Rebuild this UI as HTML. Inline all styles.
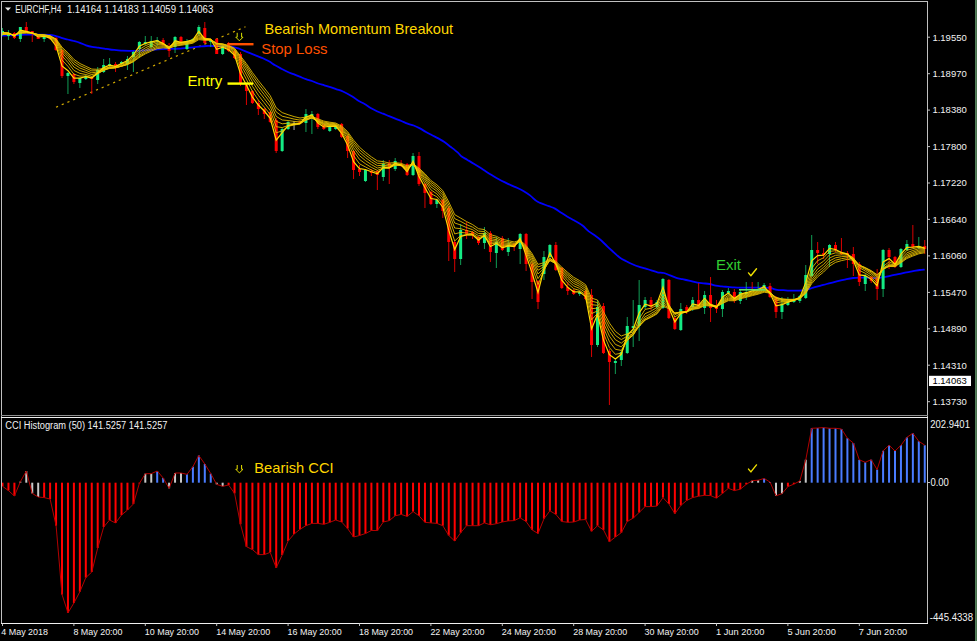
<!DOCTYPE html>
<html><head><meta charset="utf-8"><style>
html,body{margin:0;padding:0;background:#000;width:977px;height:641px;overflow:hidden}
</style></head><body>
<svg width="977" height="641" viewBox="0 0 977 641" style="display:block">
<rect x="0" y="0" width="977" height="641" fill="#000"/>
<defs><clipPath id="cm"><rect x="2" y="2" width="925" height="413"/></clipPath><clipPath id="cc"><rect x="2" y="418" width="925" height="205"/></clipPath></defs>
<g clip-path="url(#cm)">
<line x1="56" y1="107.2" x2="245.5" y2="26.8" stroke="#d0a800" stroke-width="1.2" stroke-dasharray="2.2,4"/>
<path d="M0.00,35.60 C2.87,35.52 13.10,35.27 17.20,35.10 C21.30,34.93 21.32,34.68 24.60,34.60 C27.88,34.52 32.82,34.57 36.90,34.60 C40.98,34.63 46.03,34.60 49.10,34.80 C52.17,35.00 53.25,35.28 55.30,35.80 C57.35,36.32 59.35,37.28 61.40,37.90 C63.45,38.52 65.55,38.98 67.60,39.50 C69.65,40.02 71.65,40.45 73.70,41.00 C75.75,41.55 77.85,42.08 79.90,42.80 C81.95,43.52 83.97,44.62 86.00,45.30 C88.03,45.98 90.05,46.50 92.10,46.90 C94.15,47.30 96.25,47.42 98.30,47.70 C100.35,47.98 102.45,48.30 104.40,48.60 C106.35,48.90 108.00,49.25 110.00,49.50 C112.00,49.75 114.27,49.90 116.40,50.10 C118.53,50.30 120.67,50.57 122.80,50.70 C124.93,50.83 127.07,50.87 129.20,50.90 C131.33,50.93 133.47,50.97 135.60,50.90 C137.73,50.83 139.87,50.63 142.00,50.50 C144.13,50.37 146.27,50.25 148.40,50.10 C150.53,49.95 152.67,49.75 154.80,49.60 C156.93,49.45 159.07,49.32 161.20,49.20 C163.33,49.08 165.47,48.97 167.60,48.90 C169.73,48.83 171.87,48.85 174.00,48.80 C176.13,48.75 178.27,48.75 180.40,48.60 C182.53,48.45 184.67,48.12 186.80,47.90 C188.93,47.68 191.07,47.52 193.20,47.30 C195.33,47.08 197.47,46.82 199.60,46.60 C201.73,46.38 203.87,46.10 206.00,46.00 C208.13,45.90 210.27,45.95 212.40,46.00 C214.53,46.05 216.68,46.22 218.80,46.30 C220.92,46.38 223.08,46.45 225.10,46.50 C227.12,46.55 228.70,46.28 230.90,46.60 C233.10,46.92 236.05,47.68 238.30,48.40 C240.55,49.12 242.35,50.07 244.40,50.90 C246.45,51.73 248.55,52.58 250.60,53.40 C252.65,54.22 254.65,54.98 256.70,55.80 C258.75,56.62 260.85,57.38 262.90,58.30 C264.95,59.22 266.97,60.13 269.00,61.30 C271.03,62.47 273.05,64.07 275.10,65.30 C277.15,66.53 279.25,67.62 281.30,68.70 C283.35,69.78 285.35,70.88 287.40,71.80 C289.45,72.72 291.55,73.38 293.60,74.20 C295.65,75.02 297.65,75.87 299.70,76.70 C301.75,77.53 303.85,78.48 305.90,79.20 C307.95,79.92 309.97,80.28 312.00,81.00 C314.03,81.72 316.05,82.78 318.10,83.50 C320.15,84.22 322.25,84.70 324.30,85.30 C326.35,85.90 328.35,86.43 330.40,87.10 C332.45,87.77 334.50,88.57 336.60,89.30 C338.70,90.03 340.38,90.30 343.00,91.50 C345.62,92.70 349.73,94.95 352.30,96.50 C354.87,98.05 356.35,99.55 358.40,100.80 C360.45,102.05 362.55,102.80 364.60,104.00 C366.65,105.20 368.65,106.80 370.70,108.00 C372.75,109.20 374.85,110.25 376.90,111.20 C378.95,112.15 380.97,112.88 383.00,113.70 C385.03,114.52 387.05,115.28 389.10,116.10 C391.15,116.92 393.25,117.78 395.30,118.60 C397.35,119.42 399.35,120.15 401.40,121.00 C403.45,121.85 405.55,122.95 407.60,123.70 C409.65,124.45 411.65,124.72 413.70,125.50 C415.75,126.28 417.85,127.32 419.90,128.40 C421.95,129.48 423.97,130.87 426.00,132.00 C428.03,133.13 430.05,134.13 432.10,135.20 C434.15,136.27 436.25,137.25 438.30,138.40 C440.35,139.55 442.35,140.70 444.40,142.10 C446.45,143.50 448.35,145.05 450.60,146.80 C452.85,148.55 456.12,151.03 457.90,152.60 C459.68,154.17 459.70,154.98 461.30,156.20 C462.90,157.42 465.42,158.65 467.50,159.90 C469.58,161.15 471.72,162.42 473.80,163.70 C475.88,164.98 477.92,166.27 480.00,167.60 C482.08,168.93 484.22,170.38 486.30,171.70 C488.38,173.02 490.42,174.25 492.50,175.50 C494.58,176.75 496.72,178.05 498.80,179.20 C500.88,180.35 502.92,181.37 505.00,182.40 C507.08,183.43 509.22,184.47 511.30,185.40 C513.38,186.33 515.42,187.03 517.50,188.00 C519.58,188.97 521.72,189.97 523.80,191.20 C525.88,192.43 527.92,193.78 530.00,195.40 C532.08,197.02 534.63,199.65 536.30,200.90 C537.97,202.15 537.92,202.02 540.00,202.90 C542.08,203.78 546.30,205.25 548.80,206.20 C551.30,207.15 552.92,207.50 555.00,208.60 C557.08,209.70 559.22,211.45 561.30,212.80 C563.38,214.15 565.32,215.42 567.50,216.70 C569.68,217.98 571.90,219.03 574.40,220.50 C576.90,221.97 580.10,223.68 582.50,225.50 C584.90,227.32 586.72,229.72 588.80,231.40 C590.88,233.08 592.92,234.08 595.00,235.60 C597.08,237.12 599.22,238.67 601.30,240.50 C603.38,242.33 605.42,244.63 607.50,246.60 C609.58,248.57 611.72,250.43 613.80,252.30 C615.88,254.17 617.92,256.32 620.00,257.80 C622.08,259.28 624.22,260.13 626.30,261.20 C628.38,262.27 630.42,263.28 632.50,264.20 C634.58,265.12 636.72,266.02 638.80,266.70 C640.88,267.38 642.92,267.68 645.00,268.30 C647.08,268.92 649.22,269.73 651.30,270.40 C653.38,271.07 655.42,271.87 657.50,272.30 C659.58,272.73 661.72,272.48 663.80,273.00 C665.88,273.52 667.92,274.60 670.00,275.40 C672.08,276.20 674.22,277.17 676.30,277.80 C678.38,278.43 680.38,278.73 682.50,279.20 C684.62,279.67 686.53,280.03 689.00,280.60 C691.47,281.17 694.90,282.15 697.30,282.60 C699.70,283.05 701.35,283.07 703.40,283.30 C705.45,283.53 707.55,283.62 709.60,284.00 C711.65,284.38 713.65,285.20 715.70,285.60 C717.75,286.00 719.85,286.18 721.90,286.40 C723.95,286.62 725.97,286.73 728.00,286.90 C730.03,287.07 732.05,287.28 734.10,287.40 C736.15,287.52 737.22,287.57 740.30,287.60 C743.38,287.63 748.50,287.58 752.60,287.60 C756.70,287.62 761.83,287.60 764.90,287.70 C767.97,287.80 768.97,287.83 771.00,288.20 C773.03,288.57 775.05,289.57 777.10,289.90 C779.15,290.23 781.25,290.08 783.30,290.20 C785.35,290.32 787.35,290.52 789.40,290.60 C791.45,290.68 793.55,290.72 795.60,290.70 C797.65,290.68 799.85,290.68 801.70,290.50 C803.55,290.32 804.77,290.08 806.70,289.60 C808.63,289.12 811.08,288.22 813.30,287.60 C815.52,286.98 817.78,286.50 820.00,285.90 C822.22,285.30 824.38,284.60 826.60,284.00 C828.82,283.40 831.08,282.85 833.30,282.30 C835.52,281.75 837.68,281.23 839.90,280.70 C842.12,280.17 844.38,279.55 846.60,279.10 C848.82,278.65 850.98,278.25 853.20,278.00 C855.42,277.75 857.68,277.67 859.90,277.60 C862.12,277.53 864.28,277.52 866.50,277.60 C868.72,277.68 870.98,278.07 873.20,278.10 C875.42,278.13 877.58,278.05 879.80,277.80 C882.02,277.55 884.28,277.03 886.50,276.60 C888.72,276.17 890.88,275.65 893.10,275.20 C895.32,274.75 897.57,274.38 899.80,273.90 C902.03,273.42 904.28,272.75 906.50,272.30 C908.72,271.85 910.88,271.58 913.10,271.20 C915.32,270.82 917.87,270.27 919.80,270.00 C921.73,269.73 923.88,269.67 924.70,269.60" fill="none" stroke="#0000ff" stroke-width="1.8" stroke-linejoin="round"/>
<line x1="2.50" y1="28" x2="2.50" y2="36" stroke="#12b060" stroke-width="0.9"/>
<rect x="1.00" y="31" width="3" height="4" fill="#14eb84"/>
<line x1="8.45" y1="30" x2="8.45" y2="40" stroke="#12b060" stroke-width="0.9"/>
<rect x="6.95" y="33" width="3" height="3" fill="#14eb84"/>
<line x1="14.40" y1="32" x2="14.40" y2="39" stroke="#f00000" stroke-width="0.9"/>
<rect x="12.90" y="33" width="3" height="5" fill="#ff0000"/>
<line x1="20.35" y1="27" x2="20.35" y2="42" stroke="#12b060" stroke-width="0.9"/>
<rect x="18.85" y="27" width="3" height="12" fill="#14eb84"/>
<line x1="26.30" y1="22" x2="26.30" y2="32" stroke="#f00000" stroke-width="0.9"/>
<rect x="24.80" y="27" width="3" height="5" fill="#ff0000"/>
<line x1="32.25" y1="31" x2="32.25" y2="42" stroke="#f00000" stroke-width="0.9"/>
<rect x="30.75" y="31" width="3" height="3" fill="#ff0000"/>
<line x1="38.20" y1="35" x2="38.20" y2="39" stroke="#f00000" stroke-width="0.9"/>
<rect x="36.70" y="36" width="3" height="3" fill="#ff0000"/>
<line x1="44.15" y1="36" x2="44.15" y2="42" stroke="#12b060" stroke-width="0.9"/>
<rect x="42.65" y="36" width="3" height="3" fill="#14eb84"/>
<line x1="50.10" y1="37" x2="50.10" y2="40" stroke="#f00000" stroke-width="0.9"/>
<rect x="48.60" y="37" width="3" height="2" fill="#ff0000"/>
<line x1="56.05" y1="37" x2="56.05" y2="51" stroke="#f00000" stroke-width="0.9"/>
<rect x="54.55" y="38" width="3" height="12" fill="#ff0000"/>
<line x1="62.00" y1="50" x2="62.00" y2="78" stroke="#f00000" stroke-width="0.9"/>
<rect x="60.50" y="50" width="3" height="26" fill="#ff0000"/>
<line x1="67.95" y1="72" x2="67.95" y2="94" stroke="#12b060" stroke-width="0.9"/>
<rect x="66.45" y="73" width="3" height="3" fill="#14eb84"/>
<line x1="73.90" y1="73" x2="73.90" y2="84" stroke="#f00000" stroke-width="0.9"/>
<rect x="72.40" y="74" width="3" height="8" fill="#ff0000"/>
<line x1="79.85" y1="78" x2="79.85" y2="88" stroke="#12b060" stroke-width="0.9"/>
<rect x="78.35" y="78" width="3" height="5" fill="#14eb84"/>
<line x1="85.80" y1="75" x2="85.80" y2="80" stroke="#12b060" stroke-width="0.9"/>
<rect x="84.30" y="76" width="3" height="3" fill="#14eb84"/>
<line x1="91.75" y1="76" x2="91.75" y2="94" stroke="#f00000" stroke-width="0.9"/>
<rect x="90.25" y="77" width="3" height="2" fill="#ff0000"/>
<line x1="97.70" y1="67" x2="97.70" y2="84" stroke="#12b060" stroke-width="0.9"/>
<rect x="96.20" y="70" width="3" height="10" fill="#14eb84"/>
<line x1="103.65" y1="59" x2="103.65" y2="73" stroke="#12b060" stroke-width="0.9"/>
<rect x="102.15" y="65" width="3" height="7" fill="#14eb84"/>
<line x1="109.60" y1="58" x2="109.60" y2="67" stroke="#12b060" stroke-width="0.9"/>
<rect x="108.10" y="64" width="3" height="2" fill="#14eb84"/>
<line x1="115.55" y1="62" x2="115.55" y2="72" stroke="#f00000" stroke-width="0.9"/>
<rect x="114.05" y="64" width="3" height="3" fill="#ff0000"/>
<line x1="121.50" y1="61" x2="121.50" y2="65" stroke="#12b060" stroke-width="0.9"/>
<rect x="120.00" y="62" width="3" height="2" fill="#14eb84"/>
<line x1="127.45" y1="56" x2="127.45" y2="70" stroke="#12b060" stroke-width="0.9"/>
<rect x="125.95" y="59" width="3" height="5" fill="#14eb84"/>
<line x1="133.40" y1="51" x2="133.40" y2="72" stroke="#12b060" stroke-width="0.9"/>
<rect x="131.90" y="52" width="3" height="5" fill="#14eb84"/>
<line x1="139.35" y1="41" x2="139.35" y2="58" stroke="#12b060" stroke-width="0.9"/>
<rect x="137.85" y="42" width="3" height="7" fill="#14eb84"/>
<line x1="145.30" y1="36" x2="145.30" y2="45" stroke="#12b060" stroke-width="0.9"/>
<rect x="143.80" y="42" width="3" height="2" fill="#14eb84"/>
<line x1="151.25" y1="36" x2="151.25" y2="48" stroke="#12b060" stroke-width="0.9"/>
<rect x="149.75" y="41" width="3" height="6" fill="#14eb84"/>
<line x1="157.20" y1="37" x2="157.20" y2="46" stroke="#12b060" stroke-width="0.9"/>
<rect x="155.70" y="40" width="3" height="1.2" fill="#14eb84"/>
<line x1="163.15" y1="38" x2="163.15" y2="46" stroke="#f00000" stroke-width="0.9"/>
<rect x="161.65" y="40" width="3" height="5" fill="#ff0000"/>
<line x1="169.10" y1="43" x2="169.10" y2="57" stroke="#f00000" stroke-width="0.9"/>
<rect x="167.60" y="49" width="3" height="2" fill="#ff0000"/>
<line x1="175.05" y1="36" x2="175.05" y2="53" stroke="#12b060" stroke-width="0.9"/>
<rect x="173.55" y="37" width="3" height="10" fill="#14eb84"/>
<line x1="181.00" y1="36" x2="181.00" y2="44" stroke="#f00000" stroke-width="0.9"/>
<rect x="179.50" y="37" width="3" height="6" fill="#ff0000"/>
<line x1="186.95" y1="39" x2="186.95" y2="50" stroke="#12b060" stroke-width="0.9"/>
<rect x="185.45" y="41" width="3" height="8" fill="#14eb84"/>
<line x1="192.90" y1="38" x2="192.90" y2="42" stroke="#12b060" stroke-width="0.9"/>
<rect x="191.40" y="39" width="3" height="2" fill="#14eb84"/>
<line x1="198.85" y1="25" x2="198.85" y2="36" stroke="#12b060" stroke-width="0.9"/>
<rect x="197.35" y="27" width="3" height="7" fill="#14eb84"/>
<line x1="204.80" y1="22" x2="204.80" y2="44" stroke="#f00000" stroke-width="0.9"/>
<rect x="203.30" y="28" width="3" height="15" fill="#ff0000"/>
<line x1="210.75" y1="39" x2="210.75" y2="47" stroke="#12b060" stroke-width="0.9"/>
<rect x="209.25" y="40" width="3" height="2" fill="#14eb84"/>
<line x1="216.70" y1="38" x2="216.70" y2="54" stroke="#f00000" stroke-width="0.9"/>
<rect x="215.20" y="39" width="3" height="15" fill="#ff0000"/>
<line x1="222.65" y1="45" x2="222.65" y2="55" stroke="#12b060" stroke-width="0.9"/>
<rect x="221.15" y="46" width="3" height="8" fill="#14eb84"/>
<line x1="228.60" y1="42" x2="228.60" y2="52" stroke="#f00000" stroke-width="0.9"/>
<rect x="227.10" y="43" width="3" height="8" fill="#ff0000"/>
<line x1="234.55" y1="50" x2="234.55" y2="59" stroke="#f00000" stroke-width="0.9"/>
<rect x="233.05" y="51" width="3" height="7" fill="#ff0000"/>
<line x1="240.50" y1="52" x2="240.50" y2="86" stroke="#f00000" stroke-width="0.9"/>
<rect x="239.00" y="54" width="3" height="29" fill="#ff0000"/>
<line x1="246.45" y1="84" x2="246.45" y2="105" stroke="#f00000" stroke-width="0.9"/>
<rect x="244.95" y="85" width="3" height="6" fill="#ff0000"/>
<line x1="252.40" y1="90" x2="252.40" y2="104" stroke="#f00000" stroke-width="0.9"/>
<rect x="250.90" y="91" width="3" height="12" fill="#ff0000"/>
<line x1="258.35" y1="100" x2="258.35" y2="115" stroke="#f00000" stroke-width="0.9"/>
<rect x="256.85" y="103" width="3" height="6" fill="#ff0000"/>
<line x1="264.30" y1="108" x2="264.30" y2="119" stroke="#f00000" stroke-width="0.9"/>
<rect x="262.80" y="109" width="3" height="5" fill="#ff0000"/>
<line x1="270.25" y1="111" x2="270.25" y2="123" stroke="#f00000" stroke-width="0.9"/>
<rect x="268.75" y="112" width="3" height="10" fill="#ff0000"/>
<line x1="276.20" y1="118" x2="276.20" y2="153" stroke="#f00000" stroke-width="0.9"/>
<rect x="274.70" y="120" width="3" height="31" fill="#ff0000"/>
<line x1="282.15" y1="128" x2="282.15" y2="152" stroke="#12b060" stroke-width="0.9"/>
<rect x="280.65" y="129" width="3" height="22" fill="#14eb84"/>
<line x1="288.10" y1="121" x2="288.10" y2="130" stroke="#12b060" stroke-width="0.9"/>
<rect x="286.60" y="122" width="3" height="7" fill="#14eb84"/>
<line x1="294.05" y1="121" x2="294.05" y2="130" stroke="#c0c0c0" stroke-width="0.9"/>
<rect x="292.55" y="123.5" width="3" height="1.2" fill="#e8e8e8"/>
<line x1="300.00" y1="121" x2="300.00" y2="124" stroke="#f00000" stroke-width="0.9"/>
<rect x="298.50" y="121.5" width="3" height="1.5" fill="#ff0000"/>
<line x1="305.95" y1="109" x2="305.95" y2="132" stroke="#12b060" stroke-width="0.9"/>
<rect x="304.45" y="114" width="3" height="9" fill="#14eb84"/>
<line x1="311.90" y1="111" x2="311.90" y2="134" stroke="#12b060" stroke-width="0.9"/>
<rect x="310.40" y="114" width="3" height="2" fill="#14eb84"/>
<line x1="317.85" y1="113" x2="317.85" y2="129" stroke="#f00000" stroke-width="0.9"/>
<rect x="316.35" y="114" width="3" height="13" fill="#ff0000"/>
<line x1="323.80" y1="124" x2="323.80" y2="130" stroke="#f00000" stroke-width="0.9"/>
<rect x="322.30" y="125" width="3" height="4" fill="#ff0000"/>
<line x1="329.75" y1="125" x2="329.75" y2="132" stroke="#12b060" stroke-width="0.9"/>
<rect x="328.25" y="126" width="3" height="5" fill="#14eb84"/>
<line x1="335.70" y1="125" x2="335.70" y2="130" stroke="#12b060" stroke-width="0.9"/>
<rect x="334.20" y="126" width="3" height="3" fill="#14eb84"/>
<line x1="341.65" y1="123" x2="341.65" y2="138" stroke="#f00000" stroke-width="0.9"/>
<rect x="340.15" y="124" width="3" height="13" fill="#ff0000"/>
<line x1="347.60" y1="135" x2="347.60" y2="158" stroke="#f00000" stroke-width="0.9"/>
<rect x="346.10" y="136" width="3" height="15" fill="#ff0000"/>
<line x1="353.55" y1="150" x2="353.55" y2="179" stroke="#f00000" stroke-width="0.9"/>
<rect x="352.05" y="151" width="3" height="19" fill="#ff0000"/>
<line x1="359.50" y1="165" x2="359.50" y2="176" stroke="#f00000" stroke-width="0.9"/>
<rect x="358.00" y="169" width="3" height="3" fill="#ff0000"/>
<line x1="365.45" y1="169" x2="365.45" y2="182" stroke="#12b060" stroke-width="0.9"/>
<rect x="363.95" y="170" width="3" height="11" fill="#14eb84"/>
<line x1="371.40" y1="169" x2="371.40" y2="176" stroke="#f00000" stroke-width="0.9"/>
<rect x="369.90" y="171" width="3" height="2" fill="#ff0000"/>
<line x1="377.35" y1="170" x2="377.35" y2="190" stroke="#f00000" stroke-width="0.9"/>
<rect x="375.85" y="171" width="3" height="4" fill="#ff0000"/>
<line x1="383.30" y1="160" x2="383.30" y2="181" stroke="#12b060" stroke-width="0.9"/>
<rect x="381.80" y="164" width="3" height="13" fill="#14eb84"/>
<line x1="389.25" y1="160" x2="389.25" y2="184" stroke="#f00000" stroke-width="0.9"/>
<rect x="387.75" y="163" width="3" height="5" fill="#ff0000"/>
<line x1="395.20" y1="158" x2="395.20" y2="171" stroke="#12b060" stroke-width="0.9"/>
<rect x="393.70" y="161" width="3" height="8" fill="#14eb84"/>
<line x1="401.15" y1="160" x2="401.15" y2="167" stroke="#f00000" stroke-width="0.9"/>
<rect x="399.65" y="164" width="3" height="2" fill="#ff0000"/>
<line x1="407.10" y1="163" x2="407.10" y2="176" stroke="#f00000" stroke-width="0.9"/>
<rect x="405.60" y="164" width="3" height="11" fill="#ff0000"/>
<line x1="413.05" y1="153" x2="413.05" y2="176" stroke="#12b060" stroke-width="0.9"/>
<rect x="411.55" y="156" width="3" height="19" fill="#14eb84"/>
<line x1="419.00" y1="152" x2="419.00" y2="186" stroke="#f00000" stroke-width="0.9"/>
<rect x="417.50" y="156" width="3" height="28" fill="#ff0000"/>
<line x1="424.95" y1="183" x2="424.95" y2="208" stroke="#f00000" stroke-width="0.9"/>
<rect x="423.45" y="184" width="3" height="9" fill="#ff0000"/>
<line x1="430.90" y1="191" x2="430.90" y2="205" stroke="#f00000" stroke-width="0.9"/>
<rect x="429.40" y="192" width="3" height="12" fill="#ff0000"/>
<line x1="436.85" y1="199" x2="436.85" y2="208" stroke="#12b060" stroke-width="0.9"/>
<rect x="435.35" y="200" width="3" height="4" fill="#14eb84"/>
<line x1="442.80" y1="199" x2="442.80" y2="218" stroke="#f00000" stroke-width="0.9"/>
<rect x="441.30" y="200" width="3" height="11" fill="#ff0000"/>
<line x1="448.75" y1="206" x2="448.75" y2="261" stroke="#f00000" stroke-width="0.9"/>
<rect x="447.25" y="208" width="3" height="34" fill="#ff0000"/>
<line x1="454.70" y1="241" x2="454.70" y2="272" stroke="#f00000" stroke-width="0.9"/>
<rect x="453.20" y="242" width="3" height="17" fill="#ff0000"/>
<line x1="460.65" y1="224" x2="460.65" y2="265" stroke="#12b060" stroke-width="0.9"/>
<rect x="459.15" y="230" width="3" height="29" fill="#14eb84"/>
<line x1="466.60" y1="222" x2="466.60" y2="239" stroke="#f00000" stroke-width="0.9"/>
<rect x="465.10" y="230" width="3" height="4" fill="#ff0000"/>
<line x1="472.55" y1="231" x2="472.55" y2="239" stroke="#f00000" stroke-width="0.9"/>
<rect x="471.05" y="232" width="3" height="3" fill="#ff0000"/>
<line x1="478.50" y1="236" x2="478.50" y2="245" stroke="#f00000" stroke-width="0.9"/>
<rect x="477.00" y="237" width="3" height="6" fill="#ff0000"/>
<line x1="484.45" y1="227" x2="484.45" y2="249" stroke="#12b060" stroke-width="0.9"/>
<rect x="482.95" y="233" width="3" height="10" fill="#14eb84"/>
<line x1="490.40" y1="231" x2="490.40" y2="262" stroke="#f00000" stroke-width="0.9"/>
<rect x="488.90" y="233" width="3" height="19" fill="#ff0000"/>
<line x1="496.35" y1="237" x2="496.35" y2="268" stroke="#12b060" stroke-width="0.9"/>
<rect x="494.85" y="242" width="3" height="11" fill="#14eb84"/>
<line x1="502.30" y1="236" x2="502.30" y2="251" stroke="#f00000" stroke-width="0.9"/>
<rect x="500.80" y="238" width="3" height="12" fill="#ff0000"/>
<line x1="508.25" y1="238" x2="508.25" y2="256" stroke="#12b060" stroke-width="0.9"/>
<rect x="506.75" y="245" width="3" height="7" fill="#14eb84"/>
<line x1="514.20" y1="243" x2="514.20" y2="251" stroke="#f00000" stroke-width="0.9"/>
<rect x="512.70" y="244" width="3" height="3" fill="#ff0000"/>
<line x1="520.15" y1="233" x2="520.15" y2="264" stroke="#12b060" stroke-width="0.9"/>
<rect x="518.65" y="234" width="3" height="15" fill="#14eb84"/>
<line x1="526.10" y1="233" x2="526.10" y2="271" stroke="#f00000" stroke-width="0.9"/>
<rect x="524.60" y="234" width="3" height="30" fill="#ff0000"/>
<line x1="532.05" y1="262" x2="532.05" y2="299" stroke="#f00000" stroke-width="0.9"/>
<rect x="530.55" y="264" width="3" height="18" fill="#ff0000"/>
<line x1="538.00" y1="280" x2="538.00" y2="309" stroke="#f00000" stroke-width="0.9"/>
<rect x="536.50" y="281" width="3" height="21" fill="#ff0000"/>
<line x1="543.95" y1="251" x2="543.95" y2="280" stroke="#12b060" stroke-width="0.9"/>
<rect x="542.45" y="257" width="3" height="17" fill="#14eb84"/>
<line x1="549.90" y1="244" x2="549.90" y2="258" stroke="#12b060" stroke-width="0.9"/>
<rect x="548.40" y="245" width="3" height="12" fill="#14eb84"/>
<line x1="555.85" y1="242" x2="555.85" y2="271" stroke="#f00000" stroke-width="0.9"/>
<rect x="554.35" y="245" width="3" height="25" fill="#ff0000"/>
<line x1="561.80" y1="267" x2="561.80" y2="289" stroke="#f00000" stroke-width="0.9"/>
<rect x="560.30" y="268" width="3" height="20" fill="#ff0000"/>
<line x1="567.75" y1="282" x2="567.75" y2="295" stroke="#f00000" stroke-width="0.9"/>
<rect x="566.25" y="287" width="3" height="4" fill="#ff0000"/>
<line x1="573.70" y1="289" x2="573.70" y2="295" stroke="#f00000" stroke-width="0.9"/>
<rect x="572.20" y="290" width="3" height="4" fill="#ff0000"/>
<line x1="579.65" y1="291" x2="579.65" y2="296" stroke="#12b060" stroke-width="0.9"/>
<rect x="578.15" y="292" width="3" height="2" fill="#14eb84"/>
<line x1="585.60" y1="290" x2="585.60" y2="300" stroke="#f00000" stroke-width="0.9"/>
<rect x="584.10" y="291" width="3" height="8" fill="#ff0000"/>
<line x1="591.55" y1="289" x2="591.55" y2="357" stroke="#f00000" stroke-width="0.9"/>
<rect x="590.05" y="295" width="3" height="50" fill="#ff0000"/>
<line x1="597.50" y1="300" x2="597.50" y2="347" stroke="#12b060" stroke-width="0.9"/>
<rect x="596.00" y="307" width="3" height="38" fill="#14eb84"/>
<line x1="603.45" y1="303" x2="603.45" y2="354" stroke="#f00000" stroke-width="0.9"/>
<rect x="601.95" y="306" width="3" height="47" fill="#ff0000"/>
<line x1="609.40" y1="349" x2="609.40" y2="405" stroke="#f00000" stroke-width="0.9"/>
<rect x="607.90" y="351" width="3" height="11" fill="#ff0000"/>
<line x1="615.35" y1="358" x2="615.35" y2="374" stroke="#12b060" stroke-width="0.9"/>
<rect x="613.85" y="361" width="3" height="2" fill="#14eb84"/>
<line x1="621.30" y1="350" x2="621.30" y2="366" stroke="#12b060" stroke-width="0.9"/>
<rect x="619.80" y="352" width="3" height="8" fill="#14eb84"/>
<line x1="627.25" y1="317" x2="627.25" y2="354" stroke="#12b060" stroke-width="0.9"/>
<rect x="625.75" y="326" width="3" height="27" fill="#14eb84"/>
<line x1="633.20" y1="300" x2="633.20" y2="347" stroke="#12b060" stroke-width="0.9"/>
<rect x="631.70" y="326" width="3" height="2" fill="#14eb84"/>
<line x1="639.15" y1="280" x2="639.15" y2="341" stroke="#12b060" stroke-width="0.9"/>
<rect x="637.65" y="305" width="3" height="21" fill="#14eb84"/>
<line x1="645.10" y1="297" x2="645.10" y2="309" stroke="#12b060" stroke-width="0.9"/>
<rect x="643.60" y="300" width="3" height="7" fill="#14eb84"/>
<line x1="651.05" y1="297" x2="651.05" y2="310" stroke="#f00000" stroke-width="0.9"/>
<rect x="649.55" y="300" width="3" height="7" fill="#ff0000"/>
<line x1="657.00" y1="300" x2="657.00" y2="309" stroke="#12b060" stroke-width="0.9"/>
<rect x="655.50" y="302" width="3" height="5" fill="#14eb84"/>
<line x1="662.95" y1="278" x2="662.95" y2="309" stroke="#12b060" stroke-width="0.9"/>
<rect x="661.45" y="279" width="3" height="29" fill="#14eb84"/>
<line x1="668.90" y1="279" x2="668.90" y2="319" stroke="#f00000" stroke-width="0.9"/>
<rect x="667.40" y="280" width="3" height="38" fill="#ff0000"/>
<line x1="674.85" y1="316" x2="674.85" y2="330" stroke="#f00000" stroke-width="0.9"/>
<rect x="673.35" y="318" width="3" height="11" fill="#ff0000"/>
<line x1="680.80" y1="303" x2="680.80" y2="331" stroke="#12b060" stroke-width="0.9"/>
<rect x="679.30" y="309" width="3" height="21" fill="#14eb84"/>
<line x1="686.75" y1="305" x2="686.75" y2="314" stroke="#f00000" stroke-width="0.9"/>
<rect x="685.25" y="307" width="3" height="4" fill="#ff0000"/>
<line x1="692.70" y1="297" x2="692.70" y2="311" stroke="#12b060" stroke-width="0.9"/>
<rect x="691.20" y="300" width="3" height="7" fill="#14eb84"/>
<line x1="698.65" y1="283" x2="698.65" y2="307" stroke="#f00000" stroke-width="0.9"/>
<rect x="697.15" y="300" width="3" height="6" fill="#ff0000"/>
<line x1="704.60" y1="291" x2="704.60" y2="314" stroke="#12b060" stroke-width="0.9"/>
<rect x="703.10" y="295" width="3" height="13" fill="#14eb84"/>
<line x1="710.55" y1="277" x2="710.55" y2="322" stroke="#f00000" stroke-width="0.9"/>
<rect x="709.05" y="295" width="3" height="13" fill="#ff0000"/>
<line x1="716.50" y1="300" x2="716.50" y2="313" stroke="#f00000" stroke-width="0.9"/>
<rect x="715.00" y="307" width="3" height="2" fill="#ff0000"/>
<line x1="722.45" y1="290" x2="722.45" y2="317" stroke="#12b060" stroke-width="0.9"/>
<rect x="720.95" y="292" width="3" height="17" fill="#14eb84"/>
<line x1="728.40" y1="288" x2="728.40" y2="295" stroke="#12b060" stroke-width="0.9"/>
<rect x="726.90" y="291" width="3" height="2" fill="#14eb84"/>
<line x1="734.35" y1="289" x2="734.35" y2="303" stroke="#f00000" stroke-width="0.9"/>
<rect x="732.85" y="292" width="3" height="9" fill="#ff0000"/>
<line x1="740.30" y1="290" x2="740.30" y2="304" stroke="#12b060" stroke-width="0.9"/>
<rect x="738.80" y="292" width="3" height="9" fill="#14eb84"/>
<line x1="746.25" y1="282" x2="746.25" y2="300" stroke="#12b060" stroke-width="0.9"/>
<rect x="744.75" y="292" width="3" height="2" fill="#14eb84"/>
<line x1="752.20" y1="282" x2="752.20" y2="291" stroke="#f00000" stroke-width="0.9"/>
<rect x="750.70" y="289" width="3" height="1.2" fill="#ff0000"/>
<line x1="758.15" y1="282" x2="758.15" y2="291" stroke="#12b060" stroke-width="0.9"/>
<rect x="756.65" y="289" width="3" height="1.2" fill="#14eb84"/>
<line x1="764.10" y1="283" x2="764.10" y2="290" stroke="#12b060" stroke-width="0.9"/>
<rect x="762.60" y="285" width="3" height="3" fill="#14eb84"/>
<line x1="770.05" y1="283" x2="770.05" y2="298" stroke="#f00000" stroke-width="0.9"/>
<rect x="768.55" y="286" width="3" height="11" fill="#ff0000"/>
<line x1="776.00" y1="296" x2="776.00" y2="318" stroke="#f00000" stroke-width="0.9"/>
<rect x="774.50" y="297" width="3" height="15" fill="#ff0000"/>
<line x1="781.95" y1="297" x2="781.95" y2="319" stroke="#12b060" stroke-width="0.9"/>
<rect x="780.45" y="304" width="3" height="8" fill="#14eb84"/>
<line x1="787.90" y1="297" x2="787.90" y2="306" stroke="#12b060" stroke-width="0.9"/>
<rect x="786.40" y="301" width="3" height="4" fill="#14eb84"/>
<line x1="793.85" y1="294" x2="793.85" y2="303" stroke="#12b060" stroke-width="0.9"/>
<rect x="792.35" y="299" width="3" height="3" fill="#14eb84"/>
<line x1="799.80" y1="295" x2="799.80" y2="303" stroke="#12b060" stroke-width="0.9"/>
<rect x="798.30" y="296" width="3" height="5" fill="#14eb84"/>
<line x1="805.75" y1="265" x2="805.75" y2="299" stroke="#12b060" stroke-width="0.9"/>
<rect x="804.25" y="275" width="3" height="23" fill="#14eb84"/>
<line x1="811.70" y1="235" x2="811.70" y2="277" stroke="#12b060" stroke-width="0.9"/>
<rect x="810.20" y="250" width="3" height="26" fill="#14eb84"/>
<line x1="817.65" y1="242" x2="817.65" y2="264" stroke="#f00000" stroke-width="0.9"/>
<rect x="816.15" y="250" width="3" height="3" fill="#ff0000"/>
<line x1="823.60" y1="248" x2="823.60" y2="259" stroke="#f00000" stroke-width="0.9"/>
<rect x="822.10" y="253" width="3" height="2" fill="#ff0000"/>
<line x1="829.55" y1="244" x2="829.55" y2="267" stroke="#12b060" stroke-width="0.9"/>
<rect x="828.05" y="245" width="3" height="9" fill="#14eb84"/>
<line x1="835.50" y1="242" x2="835.50" y2="252" stroke="#f00000" stroke-width="0.9"/>
<rect x="834.00" y="245" width="3" height="5" fill="#ff0000"/>
<line x1="841.45" y1="238" x2="841.45" y2="255" stroke="#f00000" stroke-width="0.9"/>
<rect x="839.95" y="252" width="3" height="2" fill="#ff0000"/>
<line x1="847.40" y1="251" x2="847.40" y2="268" stroke="#f00000" stroke-width="0.9"/>
<rect x="845.90" y="253" width="3" height="2" fill="#ff0000"/>
<line x1="853.35" y1="247" x2="853.35" y2="276" stroke="#f00000" stroke-width="0.9"/>
<rect x="851.85" y="254" width="3" height="10" fill="#ff0000"/>
<line x1="859.30" y1="262" x2="859.30" y2="286" stroke="#f00000" stroke-width="0.9"/>
<rect x="857.80" y="264" width="3" height="18" fill="#ff0000"/>
<line x1="865.25" y1="274" x2="865.25" y2="291" stroke="#12b060" stroke-width="0.9"/>
<rect x="863.75" y="276" width="3" height="8" fill="#14eb84"/>
<line x1="871.20" y1="276" x2="871.20" y2="283" stroke="#f00000" stroke-width="0.9"/>
<rect x="869.70" y="277" width="3" height="4" fill="#ff0000"/>
<line x1="877.15" y1="269" x2="877.15" y2="300" stroke="#f00000" stroke-width="0.9"/>
<rect x="875.65" y="278" width="3" height="11" fill="#ff0000"/>
<line x1="883.10" y1="249" x2="883.10" y2="297" stroke="#12b060" stroke-width="0.9"/>
<rect x="881.60" y="250" width="3" height="39" fill="#14eb84"/>
<line x1="889.05" y1="248" x2="889.05" y2="269" stroke="#f00000" stroke-width="0.9"/>
<rect x="887.55" y="250" width="3" height="7" fill="#ff0000"/>
<line x1="895.00" y1="256" x2="895.00" y2="268" stroke="#f00000" stroke-width="0.9"/>
<rect x="893.50" y="257" width="3" height="10" fill="#ff0000"/>
<line x1="900.95" y1="248" x2="900.95" y2="268" stroke="#12b060" stroke-width="0.9"/>
<rect x="899.45" y="249" width="3" height="18" fill="#14eb84"/>
<line x1="906.90" y1="240" x2="906.90" y2="251" stroke="#12b060" stroke-width="0.9"/>
<rect x="905.40" y="244" width="3" height="6" fill="#14eb84"/>
<line x1="912.85" y1="225" x2="912.85" y2="248" stroke="#f00000" stroke-width="0.9"/>
<rect x="911.35" y="244" width="3" height="3" fill="#ff0000"/>
<line x1="918.80" y1="237" x2="918.80" y2="249" stroke="#12b060" stroke-width="0.9"/>
<rect x="917.30" y="246" width="3" height="2" fill="#14eb84"/>
<line x1="924.75" y1="240" x2="924.75" y2="254" stroke="#f00000" stroke-width="0.9"/>
<rect x="923.25" y="246" width="3" height="3" fill="#ff0000"/>
<polyline points="2.5,34.5 8.4,34.2 14.4,35.0 20.4,33.2 26.3,33.0 32.2,33.2 38.2,34.5 44.1,34.8 50.1,35.7 56.1,38.9 62.0,47.2 68.0,52.9 73.9,59.4 79.9,63.5 85.8,66.3 91.8,69.1 97.7,69.3 103.7,68.4 109.6,67.4 115.5,67.3 121.5,66.1 127.5,64.5 133.4,61.8 139.3,57.4 145.3,53.9 151.2,51.1 157.2,48.6 163.2,47.8 169.1,48.5 175.1,46.0 181.0,45.3 187.0,44.3 192.9,43.2 198.8,39.6 204.8,40.3 210.8,40.3 216.7,43.3 222.7,43.9 228.6,45.5 234.6,48.3 240.5,56.0 246.5,63.8 252.4,72.5 258.4,80.6 264.3,88.0 270.2,95.6 276.2,107.9 282.2,112.6 288.1,114.7 294.1,116.6 300.0,118.0 305.9,117.1 311.9,116.4 317.9,118.8 323.8,121.1 329.8,122.2 335.7,123.0 341.7,126.1 347.6,131.6 353.6,140.2 359.5,147.2 365.4,152.3 371.4,156.9 377.4,160.9 383.3,161.6 389.2,163.0 395.2,162.6 401.2,163.3 407.1,165.9 413.1,163.7 419.0,168.2 424.9,173.7 430.9,180.5 436.9,184.8 442.8,190.6 448.8,202.0 454.7,214.7 460.7,218.1 466.6,221.6 472.6,224.6 478.5,228.7 484.4,229.6 490.4,234.6 496.4,236.3 502.3,239.3 508.2,240.6 514.2,242.0 520.1,240.2 526.1,245.5 532.1,253.6 538.0,264.4 544.0,262.7 549.9,258.8 555.9,261.3 561.8,267.2 567.8,272.5 573.7,277.3 579.6,280.6 585.6,284.7 591.6,298.1 597.5,300.0 603.5,311.8 609.4,323.0 615.4,331.4 621.3,336.0 627.2,333.8 633.2,332.0 639.1,326.0 645.1,320.2 651.1,317.3 657.0,313.9 663.0,306.1 668.9,308.8 674.9,313.3 680.8,312.3 686.8,312.0 692.7,309.4 698.6,308.6 704.6,305.6 710.6,306.1 716.5,306.8 722.5,303.5 728.4,300.7 734.4,300.8 740.3,298.8 746.2,297.3 752.2,295.7 758.1,294.2 764.1,292.2 770.1,293.2 776.0,297.4 782.0,298.9 787.9,299.3 793.9,299.3 799.8,298.5 805.8,293.3 811.7,283.7 817.6,276.9 823.6,272.0 829.6,266.0 835.5,262.4 841.5,260.6 847.4,259.3 853.4,260.4 859.3,265.2 865.2,267.6 871.2,270.6 877.1,274.7 883.1,269.2 889.1,266.5 895.0,266.6 901.0,262.7 906.9,258.5 912.9,256.0 918.8,253.8 924.8,252.7" fill="none" stroke="#ecc400" stroke-width="0.85"/>
<polyline points="2.5,34.4 8.4,34.0 14.4,35.0 20.4,33.0 26.3,32.8 32.2,33.1 38.2,34.6 44.1,34.9 50.1,35.9 56.1,39.5 62.0,48.6 68.0,54.7 73.9,61.5 79.9,65.6 85.8,68.2 91.8,70.9 97.7,70.7 103.7,69.3 109.6,68.0 115.5,67.7 121.5,66.3 127.5,64.5 133.4,61.3 139.3,56.5 145.3,52.9 151.2,49.9 157.2,47.4 163.2,46.8 169.1,47.9 175.1,45.2 181.0,44.6 187.0,43.7 192.9,42.5 198.8,38.6 204.8,39.7 210.8,39.8 216.7,43.4 222.7,44.0 228.6,45.8 234.6,48.8 240.5,57.4 246.5,65.8 252.4,75.1 258.4,83.6 264.3,91.2 270.2,98.9 276.2,111.9 282.2,116.2 288.1,117.6 294.1,119.1 300.0,120.1 305.9,118.6 311.9,117.4 317.9,119.8 323.8,122.1 329.8,123.1 335.7,123.8 341.7,127.1 347.6,133.1 353.6,142.3 359.5,149.7 365.4,154.8 371.4,159.4 377.4,163.3 383.3,163.4 389.2,164.6 395.2,163.7 401.2,164.3 407.1,167.0 413.1,164.2 419.0,169.2 424.9,175.1 430.9,182.3 436.9,186.8 442.8,192.8 448.8,205.1 454.7,218.6 460.7,221.4 466.6,224.6 472.6,227.2 478.5,231.1 484.4,231.6 490.4,236.7 496.4,238.0 502.3,241.0 508.2,242.0 514.2,243.3 520.1,240.9 526.1,246.7 532.1,255.5 538.0,267.1 544.0,264.6 549.9,259.7 555.9,262.3 561.8,268.7 567.8,274.3 573.7,279.2 579.6,282.4 585.6,286.6 591.6,301.2 597.5,302.6 603.5,315.2 609.4,326.9 615.4,335.4 621.3,339.6 627.2,336.2 633.2,333.6 639.1,326.5 645.1,319.9 651.1,316.6 657.0,313.0 663.0,304.5 668.9,307.9 674.9,313.1 680.8,312.1 686.8,311.8 692.7,308.9 698.6,308.2 704.6,304.9 710.6,305.7 716.5,306.5 722.5,302.9 728.4,299.9 734.4,300.2 740.3,298.1 746.2,296.6 752.2,294.9 758.1,293.5 764.1,291.3 770.1,292.8 776.0,297.6 782.0,299.2 787.9,299.6 793.9,299.5 799.8,298.6 805.8,292.7 811.7,282.0 817.6,274.8 823.6,269.8 829.6,263.6 835.5,260.2 841.5,258.7 847.4,257.7 853.4,259.3 859.3,265.0 865.2,267.7 871.2,271.1 877.1,275.5 883.1,269.2 889.1,266.1 895.0,266.3 901.0,262.0 906.9,257.5 912.9,254.9 918.8,252.7 924.8,251.7" fill="none" stroke="#ecc400" stroke-width="0.85"/>
<polyline points="2.5,34.2 8.4,33.9 14.4,35.0 20.4,32.7 26.3,32.5 32.2,33.0 38.2,34.7 44.1,35.1 50.1,36.2 56.1,40.1 62.0,50.4 68.0,56.8 73.9,64.0 79.9,68.0 85.8,70.3 91.8,72.8 97.7,72.0 103.7,70.0 109.6,68.3 115.5,67.9 121.5,66.2 127.5,64.2 133.4,60.7 139.3,55.3 145.3,51.5 151.2,48.5 157.2,46.1 163.2,45.8 169.1,47.3 175.1,44.3 181.0,44.0 187.0,43.1 192.9,41.9 198.8,37.7 204.8,39.2 210.8,39.4 216.7,43.6 222.7,44.3 228.6,46.2 234.6,49.6 240.5,59.1 246.5,68.2 252.4,78.2 258.4,87.0 264.3,94.7 270.2,102.5 276.2,116.4 282.2,120.0 288.1,120.5 294.1,121.4 300.0,121.9 305.9,119.6 311.9,118.0 317.9,120.6 323.8,123.0 329.8,123.8 335.7,124.5 341.7,128.0 347.6,134.6 353.6,144.7 359.5,152.5 365.4,157.5 371.4,161.9 377.4,165.7 383.3,165.2 389.2,166.0 395.2,164.6 401.2,165.0 407.1,167.8 413.1,164.5 419.0,170.0 424.9,176.6 430.9,184.4 436.9,188.9 442.8,195.2 448.8,208.6 454.7,223.0 460.7,225.0 466.6,227.6 472.6,229.7 478.5,233.5 484.4,233.4 490.4,238.7 496.4,239.6 502.3,242.6 508.2,243.3 514.2,244.3 520.1,241.4 526.1,247.8 532.1,257.6 538.0,270.3 544.0,266.5 549.9,260.4 555.9,263.1 561.8,270.2 567.8,276.2 573.7,281.3 579.6,284.3 585.6,288.5 591.6,304.7 597.5,305.3 603.5,318.9 609.4,331.2 615.4,339.7 621.3,343.2 627.2,338.3 633.2,334.8 639.1,326.3 645.1,318.8 651.1,315.4 657.0,311.6 663.0,302.3 668.9,306.8 674.9,313.1 680.8,311.9 686.8,311.7 692.7,308.3 698.6,307.7 704.6,304.0 710.6,305.2 716.5,306.3 722.5,302.2 728.4,299.0 734.4,299.6 740.3,297.4 746.2,295.9 752.2,294.2 758.1,292.7 764.1,290.5 770.1,292.4 776.0,298.0 782.0,299.7 787.9,300.1 793.9,299.8 799.8,298.7 805.8,291.9 811.7,279.9 817.6,272.2 823.6,267.3 829.6,260.9 835.5,257.8 841.5,256.7 847.4,256.2 853.4,258.5 859.3,265.2 865.2,268.3 871.2,271.9 877.1,276.8 883.1,269.1 889.1,265.7 895.0,266.0 901.0,261.2 906.9,256.3 912.9,253.6 918.8,251.4 924.8,250.7" fill="none" stroke="#ecc400" stroke-width="0.85"/>
<polyline points="2.5,34.0 8.4,33.7 14.4,35.1 20.4,32.4 26.3,32.3 32.2,32.8 38.2,34.9 44.1,35.3 50.1,36.5 56.1,41.0 62.0,52.7 68.0,59.4 73.9,67.0 79.9,70.6 85.8,72.4 91.8,74.6 97.7,73.1 103.7,70.4 109.6,68.3 115.5,67.8 121.5,65.9 127.5,63.6 133.4,59.7 139.3,53.8 145.3,49.9 151.2,46.9 157.2,44.6 163.2,44.7 169.1,46.8 175.1,43.6 181.0,43.4 187.0,42.6 192.9,41.4 198.8,36.6 204.8,38.7 210.8,39.2 216.7,44.1 222.7,44.7 228.6,46.8 234.6,50.5 240.5,61.4 246.5,71.2 252.4,81.8 258.4,90.9 264.3,98.6 270.2,106.4 276.2,121.3 282.2,123.8 288.1,123.2 294.1,123.3 300.0,123.2 305.9,120.1 311.9,118.1 317.9,121.1 323.8,123.7 329.8,124.5 335.7,125.0 341.7,129.0 347.6,136.3 353.6,147.6 359.5,155.7 365.4,160.5 371.4,164.6 377.4,168.1 383.3,166.7 389.2,167.2 395.2,165.1 401.2,165.4 407.1,168.6 413.1,164.4 419.0,170.9 424.9,178.3 430.9,186.9 436.9,191.2 442.8,197.8 448.8,212.6 454.7,228.0 460.7,228.7 466.6,230.5 472.6,232.0 478.5,235.6 484.4,234.8 490.4,240.5 496.4,241.0 502.3,244.0 508.2,244.3 514.2,245.2 520.1,241.5 526.1,249.0 532.1,260.0 538.0,274.0 544.0,268.3 549.9,260.6 555.9,263.7 561.8,271.8 567.8,278.2 573.7,283.5 579.6,286.3 585.6,290.5 591.6,308.7 597.5,308.1 603.5,323.1 609.4,336.1 615.4,344.4 621.3,346.9 627.2,339.9 633.2,335.3 639.1,325.2 645.1,316.8 651.1,313.5 657.0,309.7 663.0,299.5 668.9,305.6 674.9,313.4 680.8,312.0 686.8,311.6 692.7,307.8 698.6,307.2 704.6,303.1 710.6,304.7 716.5,306.2 722.5,301.4 728.4,298.0 734.4,299.0 740.3,296.6 746.2,295.1 752.2,293.4 758.1,291.9 764.1,289.6 770.1,292.1 776.0,298.7 782.0,300.5 787.9,300.7 793.9,300.1 799.8,298.7 805.8,290.8 811.7,277.2 817.6,269.1 823.6,264.4 829.6,258.0 835.5,255.3 841.5,254.9 847.4,254.9 853.4,257.9 859.3,266.0 865.2,269.3 871.2,273.2 877.1,278.5 883.1,269.0 889.1,265.0 895.0,265.7 901.0,260.1 906.9,254.7 912.9,252.2 918.8,250.1 924.8,249.7" fill="none" stroke="#ecc400" stroke-width="0.85"/>
<polyline points="2.5,33.7 8.4,33.4 14.4,35.3 20.4,32.0 26.3,32.0 32.2,32.8 38.2,35.3 44.1,35.6 50.1,36.9 56.1,42.2 62.0,55.7 68.0,62.6 73.9,70.4 79.9,73.4 85.8,74.5 91.8,76.3 97.7,73.8 103.7,70.3 109.6,67.8 115.5,67.5 121.5,65.3 127.5,62.8 133.4,58.5 139.3,51.9 145.3,47.9 151.2,45.2 157.2,43.1 163.2,43.9 169.1,46.7 175.1,42.8 181.0,42.9 187.0,42.1 192.9,40.9 198.8,35.3 204.8,38.4 210.8,39.0 216.7,45.0 222.7,45.4 228.6,47.6 234.6,51.8 240.5,64.3 246.5,75.0 252.4,86.2 258.4,95.3 264.3,102.8 270.2,110.5 276.2,126.7 282.2,127.6 288.1,125.4 294.1,124.6 300.0,124.0 305.9,120.0 311.9,117.6 317.9,121.4 323.8,124.4 329.8,125.0 335.7,125.4 341.7,130.1 347.6,138.4 353.6,151.1 359.5,159.4 365.4,163.7 371.4,167.4 377.4,170.4 383.3,167.9 389.2,167.9 395.2,165.2 401.2,165.5 407.1,169.3 413.1,164.0 419.0,172.0 424.9,180.4 430.9,189.8 436.9,193.9 442.8,200.7 448.8,217.2 454.7,233.9 460.7,232.4 466.6,233.0 472.6,233.8 478.5,237.5 484.4,235.7 490.4,242.2 496.4,242.1 502.3,245.3 508.2,245.2 514.2,245.9 520.1,241.1 526.1,250.3 532.1,263.0 538.0,278.6 544.0,269.9 549.9,260.0 555.9,264.0 561.8,273.6 567.8,280.6 573.7,285.9 579.6,288.4 585.6,292.6 591.6,313.6 597.5,310.9 603.5,327.8 609.4,341.5 615.4,349.3 621.3,350.4 627.2,340.6 633.2,334.8 639.1,322.9 645.1,313.7 651.1,311.0 657.0,307.4 663.0,296.1 668.9,304.8 674.9,314.5 680.8,312.3 686.8,311.8 692.7,307.1 698.6,306.6 704.6,302.0 710.6,304.4 716.5,306.2 722.5,300.5 728.4,296.7 734.4,298.4 740.3,295.9 746.2,294.3 752.2,292.6 758.1,291.2 764.1,288.7 770.1,292.0 776.0,300.0 782.0,301.6 787.9,301.4 793.9,300.4 799.8,298.7 805.8,289.2 811.7,273.5 817.6,265.3 823.6,261.2 829.6,254.7 835.5,252.8 841.5,253.3 847.4,254.0 853.4,258.0 859.3,267.6 865.2,271.0 871.2,275.0 877.1,280.6 883.1,268.4 889.1,263.8 895.0,265.1 901.0,258.7 906.9,252.8 912.9,250.5 918.8,248.7 924.8,248.8" fill="none" stroke="#ecc400" stroke-width="0.85"/>
<polyline points="2.5,33.2 8.4,33.1 14.4,35.6 20.4,31.3 26.3,31.6 32.2,32.8 38.2,35.9 44.1,36.0 50.1,37.5 56.1,43.7 62.0,59.9 68.0,66.4 73.9,74.2 79.9,76.1 85.8,76.1 91.8,77.5 97.7,73.8 103.7,69.4 109.6,66.7 115.5,66.8 121.5,64.4 127.5,61.7 133.4,56.9 139.3,49.4 145.3,45.7 151.2,43.4 157.2,41.7 163.2,43.3 169.1,47.2 175.1,42.1 181.0,42.5 187.0,41.8 192.9,40.4 198.8,33.7 204.8,38.3 210.8,39.2 216.7,46.6 222.7,46.3 228.6,48.6 234.6,53.3 240.5,68.2 246.5,79.6 252.4,91.3 258.4,100.1 264.3,107.1 270.2,114.5 276.2,132.8 282.2,130.9 288.1,126.4 294.1,125.0 300.0,124.0 305.9,119.0 311.9,116.5 317.9,121.7 323.8,125.4 329.8,125.7 335.7,125.8 341.7,131.4 347.6,141.2 353.6,155.6 359.5,163.8 365.4,166.9 371.4,170.0 377.4,172.5 383.3,168.2 389.2,168.1 395.2,164.6 401.2,165.3 407.1,170.1 413.1,163.1 419.0,173.5 424.9,183.3 430.9,193.6 436.9,196.8 442.8,203.9 448.8,223.0 454.7,241.0 460.7,235.5 466.6,234.7 472.6,234.9 478.5,238.9 484.4,236.0 490.4,244.0 496.4,243.0 502.3,246.5 508.2,245.7 514.2,246.4 520.1,240.2 526.1,252.1 532.1,267.0 538.0,284.5 544.0,270.8 549.9,257.9 555.9,263.9 561.8,276.0 567.8,283.5 573.7,288.7 579.6,290.4 585.6,294.7 591.6,319.8 597.5,313.4 603.5,333.2 609.4,347.6 615.4,354.3 621.3,353.2 627.2,339.6 633.2,332.8 639.1,318.9 645.1,309.4 651.1,308.2 657.0,305.1 663.0,292.1 668.9,305.0 674.9,317.0 680.8,313.0 686.8,312.0 692.7,306.0 698.6,306.0 704.6,300.5 710.6,304.3 716.5,306.6 722.5,299.3 728.4,295.2 734.4,298.1 740.3,295.0 746.2,293.5 752.2,291.8 758.1,290.4 764.1,287.7 770.1,292.3 776.0,302.2 782.0,303.1 787.9,302.0 793.9,300.5 799.8,298.3 805.8,286.6 811.7,268.3 817.6,260.7 823.6,257.8 829.6,251.4 835.5,250.7 841.5,252.4 847.4,253.7 853.4,258.8 859.3,270.4 865.2,273.2 871.2,277.1 877.1,283.1 883.1,266.5 889.1,261.8 895.0,264.4 901.0,256.7 906.9,250.3 912.9,248.7 918.8,247.3 924.8,248.2" fill="none" stroke="#ecc400" stroke-width="0.85"/>
<polyline points="2.5,32.5 8.4,32.8 14.4,36.3 20.4,30.1 26.3,31.4 32.2,33.1 38.2,37.0 44.1,36.3 50.1,38.1 56.1,46.0 62.0,66.0 68.0,70.7 73.9,78.2 79.9,78.1 85.8,76.7 91.8,78.2 97.7,72.7 103.7,67.6 109.6,65.2 115.5,66.4 121.5,63.5 127.5,60.5 133.4,54.8 139.3,46.3 145.3,43.4 151.2,41.8 157.2,40.6 163.2,43.5 169.1,48.5 175.1,40.8 181.0,42.3 187.0,41.4 192.9,39.8 198.8,31.3 204.8,39.1 210.8,39.7 216.7,49.2 222.7,47.1 228.6,49.7 234.6,55.2 240.5,73.7 246.5,85.2 252.4,97.1 258.4,105.0 264.3,111.0 270.2,118.3 276.2,140.1 282.2,132.7 288.1,125.6 294.1,124.2 300.0,123.4 305.9,117.1 311.9,115.0 317.9,123.0 323.8,127.0 329.8,126.3 335.7,126.1 341.7,133.4 347.6,145.1 353.6,161.7 359.5,168.6 365.4,169.5 371.4,171.8 377.4,173.9 383.3,167.3 389.2,167.8 395.2,163.3 401.2,165.1 407.1,171.7 413.1,161.2 419.0,176.4 424.9,187.5 430.9,198.5 436.9,199.5 442.8,207.2 448.8,230.4 454.7,249.5 460.7,236.5 466.6,234.8 472.6,234.9 478.5,240.3 484.4,235.4 490.4,246.5 496.4,243.5 502.3,247.8 508.2,245.9 514.2,246.6 520.1,238.2 526.1,255.4 532.1,273.1 538.0,292.4 544.0,268.8 549.9,252.9 555.9,264.3 561.8,280.1 567.8,287.4 573.7,291.8 579.6,291.9 585.6,296.6 591.6,328.9 597.5,314.3 603.5,340.1 609.4,354.7 615.4,358.9 621.3,354.3 627.2,335.4 633.2,329.1 639.1,313.0 645.1,304.3 651.1,306.1 657.0,303.4 663.0,287.1 668.9,307.7 674.9,321.9 680.8,313.3 686.8,311.8 692.7,303.9 698.6,305.3 704.6,298.4 710.6,304.8 716.5,307.6 722.5,297.2 728.4,293.1 734.4,298.4 740.3,294.1 746.2,292.7 752.2,290.9 758.1,289.6 764.1,286.5 770.1,293.5 776.0,305.8 782.0,304.6 787.9,302.2 793.9,300.1 799.8,297.4 805.8,282.5 811.7,260.8 817.6,255.6 823.6,255.2 829.6,248.4 835.5,249.5 841.5,252.5 847.4,254.2 853.4,260.7 859.3,274.9 865.2,275.6 871.2,279.2 877.1,285.7 883.1,261.9 889.1,258.6 895.0,264.2 901.0,254.1 906.9,247.4 912.9,247.1 918.8,246.4 924.8,248.1" fill="none" stroke="#ffd800" stroke-width="1.2"/>
<line x1="227.5" y1="44.2" x2="253.5" y2="44.2" stroke="#ff5000" stroke-width="2.4"/>
<line x1="227.5" y1="83.6" x2="253" y2="83.6" stroke="#ffff00" stroke-width="2.4"/>
<line x1="739" y1="289.8" x2="766" y2="289.8" stroke="#66e066" stroke-width="1.6"/>
</g>
<text x="264.5" y="33.9" font-family="Liberation Sans, sans-serif" font-size="14.6" fill="#ffd700" textLength="188.6" lengthAdjust="spacingAndGlyphs">Bearish Momentum Breakout</text>
<text x="261.2" y="53.6" font-family="Liberation Sans, sans-serif" font-size="14.6" fill="#ff5000" textLength="66.4" lengthAdjust="spacingAndGlyphs">Stop Loss</text>
<text x="187.4" y="85.9" font-family="Liberation Sans, sans-serif" font-size="14.6" fill="#ffff00" textLength="34.85" lengthAdjust="spacingAndGlyphs">Entry</text>
<text x="715.9" y="269.9" font-family="Liberation Sans, sans-serif" font-size="14.6" fill="#32cd32" textLength="25.1" lengthAdjust="spacingAndGlyphs">Exit</text>
<text x="254.3" y="472.6" font-family="Liberation Sans, sans-serif" font-size="14.6" fill="#ffd700" textLength="79.4" lengthAdjust="spacingAndGlyphs">Bearish CCI</text>
<path d="M237.2,32.8 V37.2 H235.8 L239.4,40.8 L243.0,37.2 H241.6 V32.8" fill="none" stroke="#d8e000" stroke-width="1"/>
<path d="M237.2,465 V469.3 H235.8 L239.4,472.9 L243.0,469.3 H241.6 V465" fill="none" stroke="#e8e000" stroke-width="1"/>
<path d="M748.5,272.90000000000003 l2.4,2.8 l5.6,-7" fill="none" stroke="#f0e000" stroke-width="1.4" stroke-linecap="round" stroke-linejoin="round"/>
<path d="M748.5,469.1 l2.4,2.8 l5.6,-7" fill="none" stroke="#f0e000" stroke-width="1.4" stroke-linecap="round" stroke-linejoin="round"/>
<g clip-path="url(#cc)">
<rect x="1.50" y="482.7" width="2" height="3.6" fill="#ff0000"/>
<rect x="7.45" y="482.7" width="2" height="7.8" fill="#ff0000"/>
<rect x="13.40" y="482.7" width="2" height="13.3" fill="#ff0000"/>
<rect x="19.35" y="481.6" width="2" height="1.1" fill="#c8c8c8"/>
<rect x="25.30" y="471.0" width="2" height="11.7" fill="#c8c8c8"/>
<rect x="31.25" y="482.7" width="2" height="10.7" fill="#c8c8c8"/>
<rect x="37.20" y="482.7" width="2" height="14.3" fill="#c8c8c8"/>
<rect x="43.15" y="482.7" width="2" height="14.9" fill="#ff0000"/>
<rect x="49.10" y="482.7" width="2" height="16.3" fill="#ff0000"/>
<rect x="55.05" y="482.7" width="2" height="43.0" fill="#ff0000"/>
<rect x="61.00" y="482.7" width="2" height="111.8" fill="#ff0000"/>
<rect x="66.95" y="482.7" width="2" height="130.1" fill="#ff0000"/>
<rect x="72.90" y="482.7" width="2" height="120.3" fill="#ff0000"/>
<rect x="78.85" y="482.7" width="2" height="109.0" fill="#ff0000"/>
<rect x="84.80" y="482.7" width="2" height="94.9" fill="#ff0000"/>
<rect x="90.75" y="482.7" width="2" height="89.3" fill="#ff0000"/>
<rect x="96.70" y="482.7" width="2" height="65.3" fill="#ff0000"/>
<rect x="102.65" y="482.7" width="2" height="44.3" fill="#ff0000"/>
<rect x="108.60" y="482.7" width="2" height="37.3" fill="#ff0000"/>
<rect x="114.55" y="482.7" width="2" height="40.3" fill="#ff0000"/>
<rect x="120.50" y="482.7" width="2" height="32.3" fill="#ff0000"/>
<rect x="126.45" y="482.7" width="2" height="27.3" fill="#ff0000"/>
<rect x="132.40" y="482.7" width="2" height="21.3" fill="#ff0000"/>
<rect x="138.35" y="482.7" width="2" height="0.8" fill="#ff0000"/>
<rect x="144.30" y="473.7" width="2" height="9.0" fill="#c8c8c8"/>
<rect x="150.25" y="473.7" width="2" height="9.0" fill="#c8c8c8"/>
<rect x="156.20" y="471.0" width="2" height="11.7" fill="#4a7cff"/>
<rect x="162.15" y="478.0" width="2" height="4.7" fill="#4a7cff"/>
<rect x="168.10" y="482.7" width="2" height="5.6" fill="#c8c8c8"/>
<rect x="174.05" y="473.0" width="2" height="9.7" fill="#c8c8c8"/>
<rect x="180.00" y="473.0" width="2" height="9.7" fill="#c8c8c8"/>
<rect x="185.95" y="474.3" width="2" height="8.4" fill="#4a7cff"/>
<rect x="191.90" y="466.7" width="2" height="16.0" fill="#4a7cff"/>
<rect x="197.85" y="455.5" width="2" height="27.2" fill="#4a7cff"/>
<rect x="203.80" y="464.0" width="2" height="18.7" fill="#4a7cff"/>
<rect x="209.75" y="473.7" width="2" height="9.0" fill="#4a7cff"/>
<rect x="215.70" y="482.7" width="2" height="1.7" fill="#c8c8c8"/>
<rect x="221.65" y="482.7" width="2" height="3.6" fill="#c8c8c8"/>
<rect x="227.60" y="482.7" width="2" height="2.3" fill="#ff0000"/>
<rect x="233.55" y="482.7" width="2" height="10.7" fill="#ff0000"/>
<rect x="239.50" y="482.7" width="2" height="41.6" fill="#ff0000"/>
<rect x="245.45" y="482.7" width="2" height="64.0" fill="#ff0000"/>
<rect x="251.40" y="482.7" width="2" height="66.9" fill="#ff0000"/>
<rect x="257.35" y="482.7" width="2" height="71.9" fill="#ff0000"/>
<rect x="263.30" y="482.7" width="2" height="71.9" fill="#ff0000"/>
<rect x="269.25" y="482.7" width="2" height="69.7" fill="#ff0000"/>
<rect x="275.20" y="482.7" width="2" height="85.1" fill="#ff0000"/>
<rect x="281.15" y="482.7" width="2" height="72.3" fill="#ff0000"/>
<rect x="287.10" y="482.7" width="2" height="58.3" fill="#ff0000"/>
<rect x="293.05" y="482.7" width="2" height="51.3" fill="#ff0000"/>
<rect x="299.00" y="482.7" width="2" height="46.6" fill="#ff0000"/>
<rect x="304.95" y="482.7" width="2" height="43.0" fill="#ff0000"/>
<rect x="310.90" y="482.7" width="2" height="40.7" fill="#ff0000"/>
<rect x="316.85" y="482.7" width="2" height="40.7" fill="#ff0000"/>
<rect x="322.80" y="482.7" width="2" height="41.6" fill="#ff0000"/>
<rect x="328.75" y="482.7" width="2" height="39.6" fill="#ff0000"/>
<rect x="334.70" y="482.7" width="2" height="37.3" fill="#ff0000"/>
<rect x="340.65" y="482.7" width="2" height="39.3" fill="#ff0000"/>
<rect x="346.60" y="482.7" width="2" height="45.8" fill="#ff0000"/>
<rect x="352.55" y="482.7" width="2" height="54.3" fill="#ff0000"/>
<rect x="358.50" y="482.7" width="2" height="52.8" fill="#ff0000"/>
<rect x="364.45" y="482.7" width="2" height="50.8" fill="#ff0000"/>
<rect x="370.40" y="482.7" width="2" height="47.8" fill="#ff0000"/>
<rect x="376.35" y="482.7" width="2" height="47.8" fill="#ff0000"/>
<rect x="382.30" y="482.7" width="2" height="39.3" fill="#ff0000"/>
<rect x="388.25" y="482.7" width="2" height="37.9" fill="#ff0000"/>
<rect x="394.20" y="482.7" width="2" height="33.1" fill="#ff0000"/>
<rect x="400.15" y="482.7" width="2" height="31.7" fill="#ff0000"/>
<rect x="406.10" y="482.7" width="2" height="33.7" fill="#ff0000"/>
<rect x="412.05" y="482.7" width="2" height="28.9" fill="#ff0000"/>
<rect x="418.00" y="482.7" width="2" height="33.1" fill="#ff0000"/>
<rect x="423.95" y="482.7" width="2" height="39.6" fill="#ff0000"/>
<rect x="429.90" y="482.7" width="2" height="40.2" fill="#ff0000"/>
<rect x="435.85" y="482.7" width="2" height="40.7" fill="#ff0000"/>
<rect x="441.80" y="482.7" width="2" height="43.0" fill="#ff0000"/>
<rect x="447.75" y="482.7" width="2" height="52.8" fill="#ff0000"/>
<rect x="453.70" y="482.7" width="2" height="58.3" fill="#ff0000"/>
<rect x="459.65" y="482.7" width="2" height="50.0" fill="#ff0000"/>
<rect x="465.60" y="482.7" width="2" height="43.0" fill="#ff0000"/>
<rect x="471.55" y="482.7" width="2" height="43.0" fill="#ff0000"/>
<rect x="477.50" y="482.7" width="2" height="43.0" fill="#ff0000"/>
<rect x="483.45" y="482.7" width="2" height="40.2" fill="#ff0000"/>
<rect x="489.40" y="482.7" width="2" height="42.1" fill="#ff0000"/>
<rect x="495.35" y="482.7" width="2" height="41.0" fill="#ff0000"/>
<rect x="501.30" y="482.7" width="2" height="39.3" fill="#ff0000"/>
<rect x="507.25" y="482.7" width="2" height="38.2" fill="#ff0000"/>
<rect x="513.20" y="482.7" width="2" height="37.9" fill="#ff0000"/>
<rect x="519.15" y="482.7" width="2" height="35.1" fill="#ff0000"/>
<rect x="525.10" y="482.7" width="2" height="38.8" fill="#ff0000"/>
<rect x="531.05" y="482.7" width="2" height="47.2" fill="#ff0000"/>
<rect x="537.00" y="482.7" width="2" height="50.8" fill="#ff0000"/>
<rect x="542.95" y="482.7" width="2" height="36.0" fill="#ff0000"/>
<rect x="548.90" y="482.7" width="2" height="28.1" fill="#ff0000"/>
<rect x="554.85" y="482.7" width="2" height="31.7" fill="#ff0000"/>
<rect x="560.80" y="482.7" width="2" height="38.8" fill="#ff0000"/>
<rect x="566.75" y="482.7" width="2" height="39.6" fill="#ff0000"/>
<rect x="572.70" y="482.7" width="2" height="39.3" fill="#ff0000"/>
<rect x="578.65" y="482.7" width="2" height="37.3" fill="#ff0000"/>
<rect x="584.60" y="482.7" width="2" height="36.8" fill="#ff0000"/>
<rect x="590.55" y="482.7" width="2" height="48.6" fill="#ff0000"/>
<rect x="596.50" y="482.7" width="2" height="43.0" fill="#ff0000"/>
<rect x="602.45" y="482.7" width="2" height="47.2" fill="#ff0000"/>
<rect x="608.40" y="482.7" width="2" height="59.0" fill="#ff0000"/>
<rect x="614.35" y="482.7" width="2" height="54.3" fill="#ff0000"/>
<rect x="620.30" y="482.7" width="2" height="50.0" fill="#ff0000"/>
<rect x="626.25" y="482.7" width="2" height="38.8" fill="#ff0000"/>
<rect x="632.20" y="482.7" width="2" height="35.4" fill="#ff0000"/>
<rect x="638.15" y="482.7" width="2" height="29.8" fill="#ff0000"/>
<rect x="644.10" y="482.7" width="2" height="23.9" fill="#ff0000"/>
<rect x="650.05" y="482.7" width="2" height="23.9" fill="#ff0000"/>
<rect x="656.00" y="482.7" width="2" height="23.3" fill="#ff0000"/>
<rect x="661.95" y="482.7" width="2" height="14.9" fill="#ff0000"/>
<rect x="667.90" y="482.7" width="2" height="21.3" fill="#ff0000"/>
<rect x="673.85" y="482.7" width="2" height="30.9" fill="#ff0000"/>
<rect x="679.80" y="482.7" width="2" height="22.7" fill="#ff0000"/>
<rect x="685.75" y="482.7" width="2" height="17.7" fill="#ff0000"/>
<rect x="691.70" y="482.7" width="2" height="14.9" fill="#ff0000"/>
<rect x="697.65" y="482.7" width="2" height="13.5" fill="#ff0000"/>
<rect x="703.60" y="482.7" width="2" height="12.6" fill="#ff0000"/>
<rect x="709.55" y="482.7" width="2" height="12.9" fill="#ff0000"/>
<rect x="715.50" y="482.7" width="2" height="15.4" fill="#ff0000"/>
<rect x="721.45" y="482.7" width="2" height="10.7" fill="#ff0000"/>
<rect x="727.40" y="482.7" width="2" height="5.6" fill="#ff0000"/>
<rect x="733.35" y="482.7" width="2" height="7.9" fill="#ff0000"/>
<rect x="739.30" y="482.7" width="2" height="6.5" fill="#ff0000"/>
<rect x="745.25" y="482.7" width="2" height="1.7" fill="#ff0000"/>
<rect x="751.20" y="480.7" width="2" height="2.0" fill="#c8c8c8"/>
<rect x="757.15" y="480.2" width="2" height="2.5" fill="#c8c8c8"/>
<rect x="763.10" y="478.5" width="2" height="4.2" fill="#4a7cff"/>
<rect x="769.05" y="482.1" width="2" height="0.8" fill="#4a7cff"/>
<rect x="775.00" y="482.7" width="2" height="13.1" fill="#c8c8c8"/>
<rect x="780.95" y="482.7" width="2" height="11.0" fill="#c8c8c8"/>
<rect x="786.90" y="482.7" width="2" height="3.9" fill="#ff0000"/>
<rect x="792.85" y="482.7" width="2" height="1.4" fill="#ff0000"/>
<rect x="798.80" y="481.0" width="2" height="1.7" fill="#c8c8c8"/>
<rect x="804.75" y="459.7" width="2" height="23.0" fill="#c8c8c8"/>
<rect x="810.70" y="428.3" width="2" height="54.4" fill="#4a7cff"/>
<rect x="816.65" y="428.0" width="2" height="54.7" fill="#4a7cff"/>
<rect x="822.60" y="427.6" width="2" height="55.1" fill="#4a7cff"/>
<rect x="828.55" y="428.3" width="2" height="54.4" fill="#4a7cff"/>
<rect x="834.50" y="428.3" width="2" height="54.4" fill="#4a7cff"/>
<rect x="840.45" y="429.0" width="2" height="53.7" fill="#4a7cff"/>
<rect x="846.40" y="438.2" width="2" height="44.5" fill="#4a7cff"/>
<rect x="852.35" y="443.1" width="2" height="39.6" fill="#4a7cff"/>
<rect x="858.30" y="459.8" width="2" height="22.9" fill="#4a7cff"/>
<rect x="864.25" y="462.3" width="2" height="20.4" fill="#4a7cff"/>
<rect x="870.20" y="459.7" width="2" height="23.0" fill="#4a7cff"/>
<rect x="876.15" y="469.6" width="2" height="13.1" fill="#4a7cff"/>
<rect x="882.10" y="450.8" width="2" height="31.9" fill="#4a7cff"/>
<rect x="888.05" y="445.2" width="2" height="37.5" fill="#4a7cff"/>
<rect x="894.00" y="451.0" width="2" height="31.7" fill="#4a7cff"/>
<rect x="899.95" y="445.2" width="2" height="37.5" fill="#4a7cff"/>
<rect x="905.90" y="437.3" width="2" height="45.4" fill="#4a7cff"/>
<rect x="911.85" y="433.3" width="2" height="49.4" fill="#4a7cff"/>
<rect x="917.80" y="441.3" width="2" height="41.4" fill="#4a7cff"/>
<rect x="923.75" y="445.2" width="2" height="37.5" fill="#4a7cff"/>
<polyline points="2.5,486.3 8.4,490.5 14.4,496.0 20.4,481.6 26.3,471.0 32.2,493.4 38.2,497.0 44.1,497.6 50.1,499.0 56.1,525.7 62.0,594.5 68.0,612.8 73.9,603.0 79.9,591.7 85.8,577.6 91.8,572.0 97.7,548.0 103.7,527.0 109.6,520.0 115.5,523.0 121.5,515.0 127.5,510.0 133.4,504.0 139.3,483.5 145.3,473.7 151.2,473.7 157.2,471.0 163.2,478.0 169.1,488.3 175.1,473.0 181.0,473.0 187.0,474.3 192.9,466.7 198.8,455.5 204.8,464.0 210.8,473.7 216.7,484.4 222.7,486.3 228.6,485.0 234.6,493.4 240.5,524.3 246.5,546.7 252.4,549.6 258.4,554.6 264.3,554.6 270.2,552.4 276.2,567.8 282.2,555.0 288.1,541.0 294.1,534.0 300.0,529.3 305.9,525.7 311.9,523.4 317.9,523.4 323.8,524.3 329.8,522.3 335.7,520.0 341.7,522.0 347.6,528.5 353.6,537.0 359.5,535.5 365.4,533.5 371.4,530.5 377.4,530.5 383.3,522.0 389.2,520.6 395.2,515.8 401.2,514.4 407.1,516.4 413.1,511.6 419.0,515.8 424.9,522.3 430.9,522.9 436.9,523.4 442.8,525.7 448.8,535.5 454.7,541.0 460.7,532.7 466.6,525.7 472.6,525.7 478.5,525.7 484.4,522.9 490.4,524.8 496.4,523.7 502.3,522.0 508.2,520.9 514.2,520.6 520.1,517.8 526.1,521.5 532.1,529.9 538.0,533.5 544.0,518.7 549.9,510.8 555.9,514.4 561.8,521.5 567.8,522.3 573.7,522.0 579.6,520.0 585.6,519.5 591.6,531.3 597.5,525.7 603.5,529.9 609.4,541.7 615.4,537.0 621.3,532.7 627.2,521.5 633.2,518.1 639.1,512.5 645.1,506.6 651.1,506.6 657.0,506.0 663.0,497.6 668.9,504.0 674.9,513.6 680.8,505.4 686.8,500.4 692.7,497.6 698.6,496.2 704.6,495.3 710.6,495.6 716.5,498.1 722.5,493.4 728.4,488.3 734.4,490.6 740.3,489.2 746.2,484.4 752.2,480.7 758.1,480.2 764.1,478.5 770.1,482.1 776.0,495.8 782.0,493.7 787.9,486.6 793.9,484.1 799.8,481.0 805.8,459.7 811.7,428.3 817.6,428.0 823.6,427.6 829.6,428.3 835.5,428.3 841.5,429.0 847.4,438.2 853.4,443.1 859.3,459.8 865.2,462.3 871.2,459.7 877.1,469.6 883.1,450.8 889.1,445.2 895.0,451.0 901.0,445.2 906.9,437.3 912.9,433.3 918.8,441.3 924.8,445.2" fill="none" stroke="#b40000" stroke-width="1"/>
</g>
<line x1="1.5" y1="1.5" x2="927.5" y2="1.5" stroke="#c0c0c0" stroke-width="1"/>
<line x1="1.5" y1="1" x2="1.5" y2="624" stroke="#c0c0c0" stroke-width="1"/>
<line x1="927.5" y1="1" x2="927.5" y2="624" stroke="#c0c0c0" stroke-width="1"/>
<line x1="1" y1="415.5" x2="928" y2="415.5" stroke="#909090" stroke-width="1"/>
<line x1="1" y1="417.5" x2="928" y2="417.5" stroke="#f0f0f0" stroke-width="1"/>
<line x1="1" y1="623.5" x2="928" y2="623.5" stroke="#f0f0f0" stroke-width="1"/>
<rect x="975" y="0" width="1" height="641" fill="#52805a"/>
<rect x="976" y="0" width="1" height="641" fill="#4a704e"/>
<path d="M5,7.4 h6 l-3,3.4 z" fill="#e8e8e8"/>
<text x="15.20" y="12.90" font-family="Liberation Sans, sans-serif" font-size="10.0" fill="#f2f2f2" textLength="46.02" lengthAdjust="spacingAndGlyphs">EURCHF,H4</text>
<text x="66.90" y="12.90" font-family="Liberation Sans, sans-serif" font-size="10.0" fill="#f2f2f2" textLength="146.35" lengthAdjust="spacingAndGlyphs">1.14164 1.14183 1.14059 1.14063</text>
<text x="5.30" y="428.80" font-family="Liberation Sans, sans-serif" font-size="10.0" fill="#f2f2f2" textLength="162.15" lengthAdjust="spacingAndGlyphs">CCI Histogram (50) 141.5257 141.5257</text>
<line x1="927.5" y1="37.2" x2="930" y2="37.2" stroke="#c0c0c0" stroke-width="1"/>
<text x="932.40" y="40.50" font-family="Liberation Sans, sans-serif" font-size="9.8" fill="#f2f2f2" textLength="34.36" lengthAdjust="spacingAndGlyphs">1.19550</text>
<line x1="927.5" y1="73.7" x2="930" y2="73.7" stroke="#c0c0c0" stroke-width="1"/>
<text x="932.40" y="76.95" font-family="Liberation Sans, sans-serif" font-size="9.8" fill="#f2f2f2" textLength="34.36" lengthAdjust="spacingAndGlyphs">1.18970</text>
<line x1="927.5" y1="110.1" x2="930" y2="110.1" stroke="#c0c0c0" stroke-width="1"/>
<text x="932.40" y="113.40" font-family="Liberation Sans, sans-serif" font-size="9.8" fill="#f2f2f2" textLength="34.36" lengthAdjust="spacingAndGlyphs">1.18380</text>
<line x1="927.5" y1="146.6" x2="930" y2="146.6" stroke="#c0c0c0" stroke-width="1"/>
<text x="932.40" y="149.85" font-family="Liberation Sans, sans-serif" font-size="9.8" fill="#f2f2f2" textLength="34.36" lengthAdjust="spacingAndGlyphs">1.17800</text>
<line x1="927.5" y1="183.0" x2="930" y2="183.0" stroke="#c0c0c0" stroke-width="1"/>
<text x="932.40" y="186.30" font-family="Liberation Sans, sans-serif" font-size="9.8" fill="#f2f2f2" textLength="34.36" lengthAdjust="spacingAndGlyphs">1.17220</text>
<line x1="927.5" y1="219.4" x2="930" y2="219.4" stroke="#c0c0c0" stroke-width="1"/>
<text x="932.40" y="222.75" font-family="Liberation Sans, sans-serif" font-size="9.8" fill="#f2f2f2" textLength="34.36" lengthAdjust="spacingAndGlyphs">1.16640</text>
<line x1="927.5" y1="255.9" x2="930" y2="255.9" stroke="#c0c0c0" stroke-width="1"/>
<text x="932.40" y="259.20" font-family="Liberation Sans, sans-serif" font-size="9.8" fill="#f2f2f2" textLength="34.36" lengthAdjust="spacingAndGlyphs">1.16060</text>
<line x1="927.5" y1="292.4" x2="930" y2="292.4" stroke="#c0c0c0" stroke-width="1"/>
<text x="932.40" y="295.65" font-family="Liberation Sans, sans-serif" font-size="9.8" fill="#f2f2f2" textLength="34.36" lengthAdjust="spacingAndGlyphs">1.15470</text>
<line x1="927.5" y1="328.8" x2="930" y2="328.8" stroke="#c0c0c0" stroke-width="1"/>
<text x="932.40" y="332.10" font-family="Liberation Sans, sans-serif" font-size="9.8" fill="#f2f2f2" textLength="34.36" lengthAdjust="spacingAndGlyphs">1.14890</text>
<line x1="927.5" y1="365.2" x2="930" y2="365.2" stroke="#c0c0c0" stroke-width="1"/>
<text x="932.40" y="368.55" font-family="Liberation Sans, sans-serif" font-size="9.8" fill="#f2f2f2" textLength="34.36" lengthAdjust="spacingAndGlyphs">1.14310</text>
<line x1="927.5" y1="401.7" x2="930" y2="401.7" stroke="#c0c0c0" stroke-width="1"/>
<text x="932.40" y="405.00" font-family="Liberation Sans, sans-serif" font-size="9.8" fill="#f2f2f2" textLength="34.36" lengthAdjust="spacingAndGlyphs">1.13730</text>
<rect x="929" y="375.8" width="42" height="10.2" fill="#ffffff"/>
<text x="932.40" y="384.40" font-family="Liberation Sans, sans-serif" font-size="9.8" fill="#000000" textLength="34.36" lengthAdjust="spacingAndGlyphs">1.14063</text>
<text x="930.30" y="428.20" font-family="Liberation Sans, sans-serif" font-size="10.0" fill="#f2f2f2" textLength="39.62" lengthAdjust="spacingAndGlyphs">202.9401</text>
<text x="930.40" y="486.30" font-family="Liberation Sans, sans-serif" font-size="10.0" fill="#f2f2f2" textLength="18.49" lengthAdjust="spacingAndGlyphs">0.00</text>
<text x="929.80" y="621.30" font-family="Liberation Sans, sans-serif" font-size="10.0" fill="#f2f2f2" textLength="43.24" lengthAdjust="spacingAndGlyphs">-445.4338</text>
<line x1="927.5" y1="482.5" x2="930" y2="482.5" stroke="#c0c0c0" stroke-width="1"/>
<line x1="2.5" y1="623.5" x2="2.5" y2="626" stroke="#c0c0c0" stroke-width="1"/>
<text x="1.30" y="634.70" font-family="Liberation Sans, sans-serif" font-size="9.7" fill="#f2f2f2" textLength="46.63" lengthAdjust="spacingAndGlyphs">4 May 2018</text>
<line x1="73.9" y1="623.5" x2="73.9" y2="626" stroke="#c0c0c0" stroke-width="1"/>
<text x="73.40" y="634.70" font-family="Liberation Sans, sans-serif" font-size="9.7" fill="#f2f2f2" textLength="49.11" lengthAdjust="spacingAndGlyphs">8 May 20:00</text>
<line x1="145.3" y1="623.5" x2="145.3" y2="626" stroke="#c0c0c0" stroke-width="1"/>
<text x="144.80" y="634.70" font-family="Liberation Sans, sans-serif" font-size="9.7" fill="#f2f2f2" textLength="54.08" lengthAdjust="spacingAndGlyphs">10 May 20:00</text>
<line x1="216.7" y1="623.5" x2="216.7" y2="626" stroke="#c0c0c0" stroke-width="1"/>
<text x="216.20" y="634.70" font-family="Liberation Sans, sans-serif" font-size="9.7" fill="#f2f2f2" textLength="54.08" lengthAdjust="spacingAndGlyphs">14 May 20:00</text>
<line x1="288.1" y1="623.5" x2="288.1" y2="626" stroke="#c0c0c0" stroke-width="1"/>
<text x="287.60" y="634.70" font-family="Liberation Sans, sans-serif" font-size="9.7" fill="#f2f2f2" textLength="54.08" lengthAdjust="spacingAndGlyphs">16 May 20:00</text>
<line x1="359.5" y1="623.5" x2="359.5" y2="626" stroke="#c0c0c0" stroke-width="1"/>
<text x="359.00" y="634.70" font-family="Liberation Sans, sans-serif" font-size="9.7" fill="#f2f2f2" textLength="54.08" lengthAdjust="spacingAndGlyphs">18 May 20:00</text>
<line x1="430.9" y1="623.5" x2="430.9" y2="626" stroke="#c0c0c0" stroke-width="1"/>
<text x="430.40" y="634.70" font-family="Liberation Sans, sans-serif" font-size="9.7" fill="#f2f2f2" textLength="54.08" lengthAdjust="spacingAndGlyphs">22 May 20:00</text>
<line x1="502.3" y1="623.5" x2="502.3" y2="626" stroke="#c0c0c0" stroke-width="1"/>
<text x="501.80" y="634.70" font-family="Liberation Sans, sans-serif" font-size="9.7" fill="#f2f2f2" textLength="54.08" lengthAdjust="spacingAndGlyphs">24 May 20:00</text>
<line x1="573.7" y1="623.5" x2="573.7" y2="626" stroke="#c0c0c0" stroke-width="1"/>
<text x="573.20" y="634.70" font-family="Liberation Sans, sans-serif" font-size="9.7" fill="#f2f2f2" textLength="54.08" lengthAdjust="spacingAndGlyphs">28 May 20:00</text>
<line x1="645.1" y1="623.5" x2="645.1" y2="626" stroke="#c0c0c0" stroke-width="1"/>
<text x="644.60" y="634.70" font-family="Liberation Sans, sans-serif" font-size="9.7" fill="#f2f2f2" textLength="54.08" lengthAdjust="spacingAndGlyphs">30 May 20:00</text>
<line x1="716.5" y1="623.5" x2="716.5" y2="626" stroke="#c0c0c0" stroke-width="1"/>
<text x="716.00" y="634.70" font-family="Liberation Sans, sans-serif" font-size="9.7" fill="#f2f2f2" textLength="48.42" lengthAdjust="spacingAndGlyphs">1 Jun 20:00</text>
<line x1="787.9" y1="623.5" x2="787.9" y2="626" stroke="#c0c0c0" stroke-width="1"/>
<text x="787.40" y="634.70" font-family="Liberation Sans, sans-serif" font-size="9.7" fill="#f2f2f2" textLength="48.42" lengthAdjust="spacingAndGlyphs">5 Jun 20:00</text>
<line x1="859.3" y1="623.5" x2="859.3" y2="626" stroke="#c0c0c0" stroke-width="1"/>
<text x="858.80" y="634.70" font-family="Liberation Sans, sans-serif" font-size="9.7" fill="#f2f2f2" textLength="48.42" lengthAdjust="spacingAndGlyphs">7 Jun 20:00</text>
</svg>
</body></html>
